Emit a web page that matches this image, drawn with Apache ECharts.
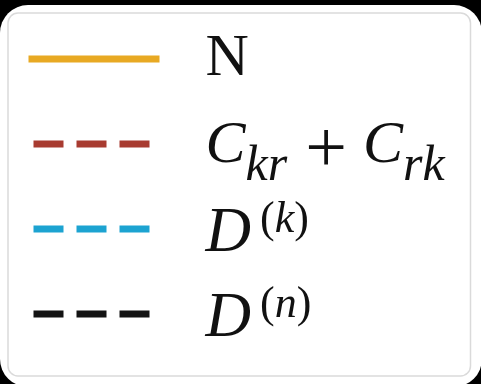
<!DOCTYPE html>
<html>
<head>
<meta charset="utf-8">
<script src="https://cdn.jsdelivr.net/npm/echarts@6/dist/echarts.min.js"></script>
<style>
  html, body { margin: 0; padding: 0; background: #000; width: 481px; height: 384px; overflow: hidden; }
  #panel { position: absolute; left: 0; top: 5px; width: 482px; height: 382px; background: #fff; border-radius: 28px; overflow: hidden; }
  #chart { width: 482px; height: 382px; }
</style>
</head>
<body>
<div id="panel"><div id="chart"></div></div>
<script>
// Legend entries: series names, their math-style labels and line styles
const seriesNames = ['N', 'Ckr+Crk', 'Dk', 'Dn'];
const seriesLabels = [
  '{rm|N}',
  '{it|C}{sub|kr}{op|+}{it|C}{sub|rk}',
  '{itD|D}{sopen|(}{supi|k}{supr|)}',
  '{itD|D}{sopen|(}{supi|n}{supr|)}'
];
const seriesColors = ['#E8A923', '#A83B30', '#1CA3D1', '#131313'];
const seriesDashed = [false, true, true, true];

const SERIF = '"Liberation Serif", "DejaVu Serif", serif';
const INK = '#111';
const rich = {
  rm:    { fontFamily: SERIF, fontSize: 60, lineHeight: 60, height: 60, color: INK },
  it:    { fontFamily: SERIF, fontStyle: 'italic', fontSize: 60, lineHeight: 60, height: 60, padding: [5, 0, 0, 0], color: INK },
  itD:   { fontFamily: SERIF, fontStyle: 'italic', fontSize: 63, lineHeight: 60, height: 60, padding: [11, 0, 0, 0], color: INK },
  op:    { fontFamily: SERIF, fontSize: 74, lineHeight: 60, height: 60, padding: [18, 16, 0, 18], color: INK },
  sub:   { fontFamily: SERIF, fontStyle: 'italic', fontSize: 50, verticalAlign: 'bottom', height: 14, lineHeight: 14, color: INK },
  sopen: { fontFamily: SERIF, fontSize: 44, verticalAlign: 'top', height: 42, lineHeight: 42, padding: [0, 0, 0, 9], color: INK },
  supr:  { fontFamily: SERIF, fontSize: 44, verticalAlign: 'top', height: 42, lineHeight: 42, color: INK },
  supi:  { fontFamily: SERIF, fontStyle: 'italic', fontSize: 44, verticalAlign: 'top', height: 42, lineHeight: 42, color: INK }
};

const chart = echarts.init(document.getElementById('chart'), null, { renderer: 'canvas' });
chart.setOption({
  animation: false,
  grid: { show: false, left: 0, right: 0, top: 0, bottom: 0 },
  xAxis: { type: 'value', show: false },
  yAxis: { type: 'value', show: false },
  legend: {
    orient: 'vertical',
    left: 8,
    top: 8,
    padding: [-2, 20, 14, 17],
    itemGap: -11,
    itemWidth: 131,
    itemHeight: 14,
    backgroundColor: '#fff',
    borderColor: '#dadada',
    borderWidth: 1.5,
    borderRadius: 10,
    selectedMode: false,
    itemStyle: { opacity: 0 },
    lineStyle: { width: 7 },
    data: seriesNames,
    formatter: function (name) { return seriesLabels[seriesNames.indexOf(name)]; },
    textStyle: {
      width: 245,
      padding: [18, 0, 18, 41],
      backgroundColor: 'transparent',
      color: INK,
      rich: rich
    }
  },
  series: seriesNames.map(function (name, i) {
    return {
      name: name,
      type: 'line',
      symbol: 'none',
      data: [],
      lineStyle: {
        color: seriesColors[i],
        width: 7,
        type: seriesDashed[i] ? [30, 13] : 'solid',
        dashOffset: seriesDashed[i] ? 38 : 0,
        cap: 'butt'
      }
    };
  })
});
</script>
</body>
</html>
